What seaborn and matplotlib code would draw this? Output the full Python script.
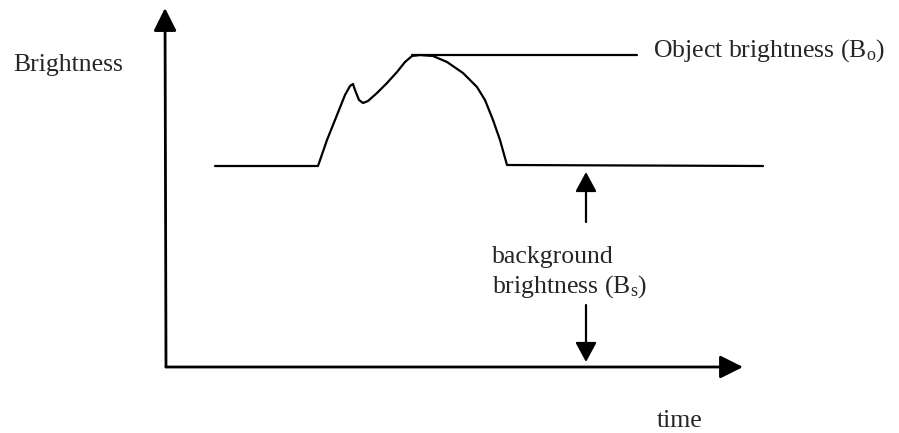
import numpy as np
import pandas as pd
import matplotlib
matplotlib.use("Agg")
import matplotlib.pyplot as plt
import seaborn as sns

# brightness profile (arbitrary units, origin at axes corner)
time = [49, 152, 161, 171, 179, 184, 187, 189, 193, 197, 202, 211, 221, 231,
        239, 246, 254, 267, 281, 297, 311, 319, 327, 334, 341, 597]
brightness = [201, 201, 227, 252, 272, 281, 283, 277, 267, 264, 266, 274, 284, 295,
              305, 311, 312, 311, 305, 294, 280, 267, 247, 227, 202, 201]

object_level = 312      # B_o
background_level = 201  # B_s
object_line = [246, 471]
bg_arrow_t = 420

curve_df = pd.DataFrame({"time": time, "brightness": brightness})

sns.set_style("white")
plt.rcParams["font.family"] = ["Liberation Serif", "DejaVu Serif"]
plt.rcParams["mathtext.fontset"] = "custom"
plt.rcParams["mathtext.rm"] = "Liberation Serif"
plt.rcParams["mathtext.it"] = "Liberation Serif"

fig = plt.figure(figsize=(8.99, 4.33), dpi=100)
ax = fig.add_axes([0, 0, 1, 1])
ax.set_xlim(-166, 733)
ax.set_ylim(-66, 367)
ax.axis("off")

sns.lineplot(data=curve_df, x="time", y="brightness", ax=ax, color="black",
             linewidth=1.6, sort=False, estimator=None, legend=False)
for ln in ax.lines:
    ln.set_solid_joinstyle("round")

# object brightness marker line
ax.plot(object_line, [object_level, object_level], color="black", lw=1.6)

arrow = dict(arrowstyle="-|>,head_length=14,head_width=7", mutation_scale=1,
             color="black", lw=2, shrinkA=0, shrinkB=0)
# axes
ax.annotate("", xy=(-1, 359), xytext=(0, 0), arrowprops=arrow)
ax.annotate("", xy=(577, 0), xytext=(0, 0), arrowprops=arrow)

# background brightness arrows
small = dict(arrow, arrowstyle="-|>,head_length=12,head_width=6.5", lw=1.6)
ax.annotate("", xy=(bg_arrow_t, background_level - 6), xytext=(bg_arrow_t, 145),
            arrowprops=small)
ax.annotate("", xy=(bg_arrow_t, 5), xytext=(bg_arrow_t, 62), arrowprops=small)

fs = 18.5
ax.text(-153, 296, "Brightness", fontsize=fs, va="baseline", ha="left")
ax.text(487, 310, r"Object brightness (B$_\mathrm{o}$)", fontsize=fs,
        va="baseline", ha="left")
ax.text(326, 104, "background", fontsize=fs, va="baseline", ha="left")
ax.text(326, 74, r"brightness (B$_\mathrm{s}$)", fontsize=fs, va="baseline", ha="left")
ax.text(491, -60, "time", fontsize=fs, va="baseline", ha="left")

fig.savefig("out.png", dpi=100, facecolor="white")
